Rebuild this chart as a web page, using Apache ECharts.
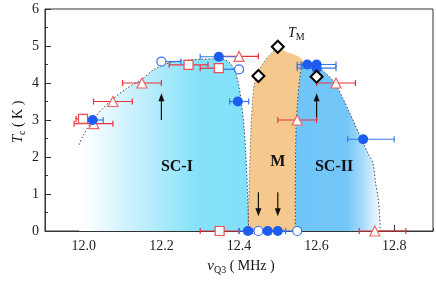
<!DOCTYPE html>
<html><head><meta charset="utf-8">
<script src="https://cdn.jsdelivr.net/npm/echarts@6/dist/echarts.min.js"></script>
<style>html,body{margin:0;padding:0;background:#fff}#c{width:436px;height:283px}</style>
</head><body><div id="c"></div>
<script>
// ---------- data ----------
const xMajorTicks = [12.0, 12.2, 12.4, 12.6, 12.8];
const yTickStep = 1;

// red open triangles
const triNu = [12.026, 12.075, 12.15, 12.40, 12.55, 12.65, 12.75];
const triTc = [2.90, 3.50, 4.00, 4.72, 3.00, 4.00, 0.00];
const triLo = [11.975, 12.025, 12.10, 12.35, 12.50, 12.60, 12.71];
const triHi = [12.075, 12.125, 12.20, 12.45, 12.60, 12.70, 12.83];

// red open squares
const sqNu = [11.998, 12.27, 12.348, 12.35];
const sqTc = [3.03, 4.49, 4.40, 0.00];
const sqLo = [11.98, 12.22, 12.30, 12.30];
const sqHi = [12.02, 12.32, 12.35, 12.40];

// blue open circles
const ocNu = [12.20, 12.40, 12.45, 12.55];
const ocTc = [4.58, 4.37, 0.00, 0.00];
const ocLo = [12.19, 12.35, 12.435, 12.50];
const ocHi = [12.25, 12.41, 12.465, 12.56];

// blue filled circles
const fcNu = [12.023, 12.348, 12.397, 12.576, 12.60, 12.60, 12.72, 12.423, 12.474, 12.50];
const fcTc = [3.00, 4.71, 3.50, 4.50, 4.50, 4.40, 2.48, 0.00, 0.00, 0.00];
const fcLo = [11.99, 12.30, 12.376, 12.55, 12.56, 12.55, 12.68, 12.40, 12.45, 12.48];
const fcHi = [12.05, 12.40, 12.425, 12.60, 12.65, 12.65, 12.80, 12.44, 12.50, 12.52];

// black open diamonds (T_M)
const dmNu = [12.45, 12.50, 12.60];
const dmTc = [4.19, 4.98, 4.17];

// phase region boundaries
const sc1Nu = [11.988, 11.997, 12.023, 12.066, 12.11, 12.152, 12.18, 12.21, 12.25, 12.30, 12.34, 12.365, 12.38, 12.392, 12.40, 12.407, 12.413, 12.418, 12.422, 12.425];
const sc1Tc = [2.33, 2.55, 3.00, 3.49, 3.85, 4.12, 4.36, 4.51, 4.60, 4.64, 4.65, 4.62, 4.50, 4.25, 3.90, 3.40, 2.80, 2.00, 1.00, 0.00];

const mNu = [12.423, 12.427, 12.431, 12.435, 12.440, 12.452, 12.468, 12.485, 12.500, 12.520, 12.545, 12.558, 12.565, 12.561, 12.556, 12.551, 12.548, 12.546, 12.545, 12.545];
const mTc = [0.00, 1.50, 2.80, 3.50, 4.00, 4.35, 4.62, 4.82, 4.97, 4.85, 4.76, 4.68, 4.58, 4.42, 4.10, 3.50, 3.00, 2.20, 1.00, 0.00];
const mLeftCount = 9;

const sc2Nu = [12.545, 12.545, 12.546, 12.548, 12.551, 12.556, 12.561, 12.566, 12.585, 12.605, 12.625, 12.647, 12.667, 12.685, 12.700, 12.715, 12.730, 12.745, 12.752, 12.758, 12.762, 12.764];
const sc2Tc = [0.00, 1.00, 2.20, 3.00, 3.50, 4.10, 4.42, 4.55, 4.52, 4.42, 4.25, 4.00, 3.60, 3.20, 2.85, 2.50, 2.15, 1.83, 1.30, 0.93, 0.50, 0.00];

// arrows
const arNu = [12.20, 12.60, 12.45, 12.50];
const arFrom = [3.00, 3.00, 1.05, 1.05];
const arTo = [3.72, 3.72, 0.40, 0.40];

// region labels
const regName = ['SC-I', 'M', 'SC-II'];
const regNu = [12.24, 12.50, 12.645];
const regTc = [1.74, 1.86, 1.74];
const tmNu = 12.548, tmTc = 5.35;

// ---------- chart ----------
const SERIF = '"Liberation Serif","Times New Roman",serif';
const zip = (a, b) => a.map((v, i) => [v, b[i]]);
const bars = (lo, hi, y) => lo.map((l, i) => [l, hi[i], y[i]]);

function errRender(color) {
  return function (params, api) {
    const y = api.value(2);
    const p1 = api.coord([api.value(0), y]);
    const p2 = api.coord([api.value(1), y]);
    const c = 3, st = { stroke: color, lineWidth: 1.2 };
    return { type: 'group', children: [
      { type: 'line', shape: { x1: p1[0], y1: p1[1], x2: p2[0], y2: p2[1] }, style: st },
      { type: 'line', shape: { x1: p1[0], y1: p1[1] - c, x2: p1[0], y2: p1[1] + c }, style: st },
      { type: 'line', shape: { x1: p2[0], y1: p2[1] - c, x2: p2[0], y2: p2[1] + c }, style: st }
    ] };
  };
}
function arrowRender(params, api) {
  const a = api.coord([api.value(0), api.value(1)]);
  const b = api.coord([api.value(0), api.value(2)]);
  const dir = b[1] > a[1] ? 1 : -1;
  const hl = 8, hw = 3;
  return { type: 'group', children: [
    { type: 'line', shape: { x1: a[0], y1: a[1], x2: b[0], y2: b[1] - dir * hl + dir }, style: { stroke: '#111', lineWidth: 1.2 } },
    { type: 'polygon', shape: { points: [[b[0], b[1]], [b[0] - hw, b[1] - dir * hl], [b[0] + hw, b[1] - dir * hl]] }, style: { fill: '#111' } }
  ] };
}

const chart = echarts.init(document.getElementById('c'), null, { renderer: 'canvas' });
const grad = (stops) => new echarts.graphic.LinearGradient(0, 0, 1, 0, stops);

const option = {
  animation: false,
  backgroundColor: '#fff',
  textStyle: { fontFamily: SERIF },
  grid: { left: 45, right: 1, top: 9, bottom: 52, show: true, borderColor: '#333', borderWidth: 1 },
  xAxis: [
    { type: 'value', min: 11.9, max: 12.9, interval: 0.1, position: 'bottom',
      axisLine: { show: true, lineStyle: { color: '#333', width: 1 } },
      axisTick: { show: true, inside: true, length: 3, lineStyle: { color: '#333' } },
      axisLabel: { color: '#222', fontFamily: SERIF, fontSize: 14, margin: 8,
        formatter: v => { const k = Math.round(v * 10); return (k % 2 === 0 && k >= 120 && k <= 128) ? (k / 10).toFixed(1) : ''; } },
      splitLine: { show: false } },
    { type: 'value', min: 11.9, max: 12.9, position: 'bottom',
      axisLine: { show: false },
      axisTick: { show: true, inside: true, length: 6, customValues: xMajorTicks, lineStyle: { color: '#333' } },
      axisLabel: { show: false }, splitLine: { show: false } }
  ],
  yAxis: { type: 'value', min: 0, max: 6, interval: yTickStep,
    axisLine: { show: true, lineStyle: { color: '#333', width: 1 } },
    axisTick: { show: true, inside: true, length: 6, lineStyle: { color: '#333' } },
    minorTick: { show: true, splitNumber: 2, length: 3, lineStyle: { color: '#333' } },
    axisLabel: { color: '#222', fontFamily: SERIF, fontSize: 14, margin: 6 },
    splitLine: { show: false } },
  series: [
    { type: 'line', data: zip(sc1Nu, sc1Tc), showSymbol: false, smooth: 0.3, silent: true, z: 1,
      lineStyle: { color: '#444', width: 1, type: [1.5, 2] },
      areaStyle: { opacity: 1, color: grad([{ offset: 0, color: '#ffffff' }, { offset: 0.04, color: '#fbfeff' }, { offset: 0.35, color: '#c4effc' }, { offset: 0.7, color: '#85e2fa' }, { offset: 1, color: '#82e0fa' }]) } },
    { type: 'line', data: zip(mNu, mTc), showSymbol: false, smooth: 0.3, silent: true, z: 1,
      lineStyle: { opacity: 0 }, areaStyle: { opacity: 1, color: '#f5c98d' } },
    { type: 'line', data: zip(mNu.slice(0, mLeftCount), mTc.slice(0, mLeftCount)), showSymbol: false, smooth: 0.3, silent: true, z: 2,
      lineStyle: { color: '#777', width: 1, type: [1.5, 2] } },
    { type: 'line', data: zip(sc2Nu, sc2Tc), showSymbol: false, smooth: 0.3, silent: true, z: 1,
      lineStyle: { color: '#444', width: 1, type: [1.5, 2] },
      areaStyle: { opacity: 1, color: grad([{ offset: 0, color: '#70c5f8' }, { offset: 0.6, color: '#72c6f8' }, { offset: 0.8, color: '#a8dcfa' }, { offset: 1, color: '#f4faff' }]) } },
    { type: 'custom', renderItem: arrowRender, data: arNu.map((v, i) => [v, arFrom[i], arTo[i]]), encode: { x: 0, y: [1, 2] }, z: 3, silent: true },
    { type: 'custom', renderItem: errRender('#e8323c'), data: bars(triLo, triHi, triTc), encode: { x: [0, 1], y: 2 }, z: 4, silent: true },
    { type: 'custom', renderItem: errRender('#e8323c'), data: bars(sqLo, sqHi, sqTc), encode: { x: [0, 1], y: 2 }, z: 4, silent: true },
    { type: 'custom', renderItem: errRender('#3a74ee'), data: bars(ocLo, ocHi, ocTc), encode: { x: [0, 1], y: 2 }, z: 5, silent: true },
    { type: 'custom', renderItem: errRender('#3a74ee'), data: bars(fcLo, fcHi, fcTc), encode: { x: [0, 1], y: 2 }, z: 5, silent: true },
    { type: 'scatter', data: zip(sqNu, sqTc), symbol: 'rect', symbolSize: 9, z: 6, silent: true,
      itemStyle: { color: '#fff', borderColor: '#ee4b55', borderWidth: 1.2, opacity: 1 } },
    { type: 'scatter', data: zip(triNu, triTc), symbol: 'triangle', symbolSize: 10, z: 6, silent: true,
      itemStyle: { color: '#fff', borderColor: '#f06464', borderWidth: 1.2, opacity: 1 } },
    { type: 'scatter', data: zip(ocNu, ocTc), symbol: 'circle', symbolSize: 9, z: 7, silent: true,
      itemStyle: { color: '#fff', borderColor: '#3a74ee', borderWidth: 1.2, opacity: 1 } },
    { type: 'scatter', data: zip(fcNu, fcTc), symbol: 'circle', symbolSize: 10, z: 8, silent: true,
      itemStyle: { color: '#1d5cf0', opacity: 1 } },
    { type: 'scatter', data: zip(dmNu, dmTc), symbol: 'diamond', symbolSize: 12, z: 9, silent: true,
      itemStyle: { color: '#fff', borderColor: '#000', borderWidth: 2, opacity: 1 } }
  ]
};
chart.setOption(option);

// ---------- text annotations ----------
const cv = document.createElement('canvas').getContext('2d');
function fontStr(p) { return (p.style || 'normal') + ' ' + (p.weight || 'normal') + ' ' + p.size + 'px ' + SERIF; }
function run(parts, cx, cy, rotation) {
  let w = 0;
  parts.forEach(p => { cv.font = fontStr(p); p.w = cv.measureText(p.text).width; w += p.w; });
  let x = -w / 2;
  const children = parts.map(p => {
    const el = { type: 'text', x: x, y: p.dy || 0, z: 100, zlevel: 0,
      style: { text: p.text, fontFamily: SERIF, fontSize: p.size, fontStyle: p.style || 'normal', fontWeight: p.weight || 'normal',
        fill: '#111', align: 'left', verticalAlign: 'middle' } };
    x += p.w;
    return el;
  });
  return { type: 'group', x: cx, y: cy, rotation: rotation || 0, children: children, z: 100 };
}
const px = (x, y) => chart.convertToPixel({ xAxisIndex: 0, yAxisIndex: 0 }, [x, y]);
const gfx = [];
regName.forEach((n, i) => {
  const p = px(regNu[i], regTc[i]);
  gfx.push(run([{ text: n, size: 16, weight: 'bold' }], p[0], p[1]));
});
const tp = px(tmNu, tmTc);
gfx.push(run([{ text: 'T', size: 14, style: 'italic' }, { text: 'M', size: 10, dy: 4 }], tp[0], tp[1]));
gfx.push(run([{ text: 'ν', size: 15, style: 'italic' }, { text: 'Q3', size: 10, dy: 4 }, { text: ' ( MHz )', size: 14 }], 241, 266));
gfx.push(run([{ text: 'T', size: 15, style: 'italic' }, { text: 'c', size: 10, dy: 4 }, { text: ' ( K )', size: 14 }], 18, 122, Math.PI / 2));
chart.setOption({ graphic: { elements: gfx } });
</script>
</body></html>
